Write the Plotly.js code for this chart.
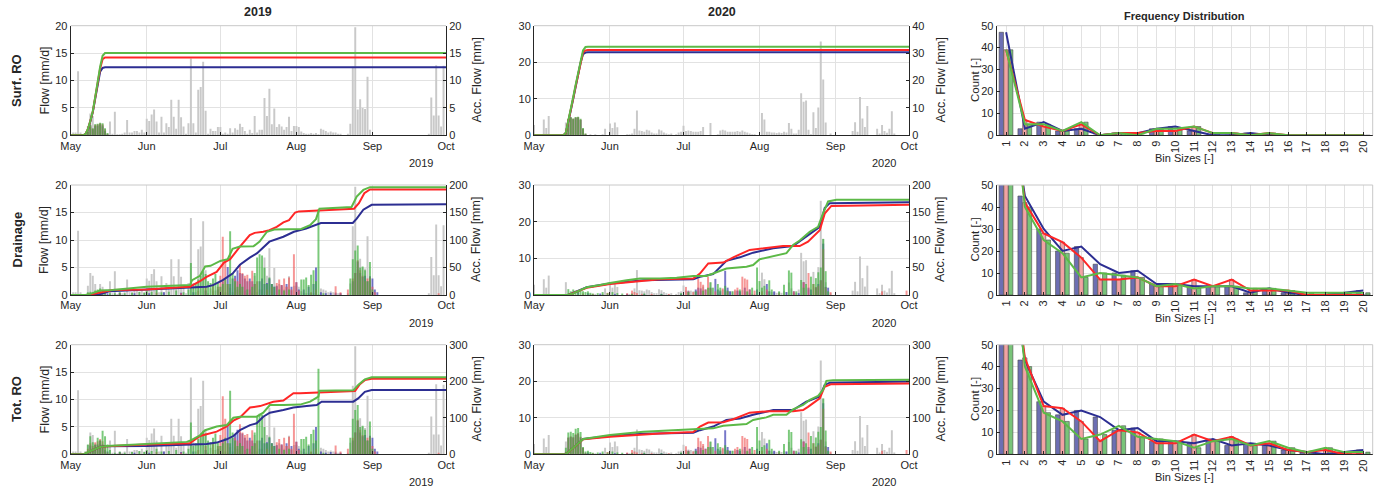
<!DOCTYPE html>
<html><head><meta charset="utf-8">
<script src="https://cdn.plot.ly/plotly-3.0.1.min.js"></script>
<style>html,body{margin:0;padding:0;background:#fff}#chart{width:1378px;height:489px}</style>
</head><body><div id="chart"></div>
<script>
// ---------------- DATA ----------------
const monthLabels = ['May','Jun','Jul','Aug','Sep','Oct'];
const monthStarts = ['05-01','06-01','07-01','08-01','09-01','10-01'];
const bins = [1,2,3,4,5,6,7,8,9,10,11,12,13,14,15,16,17,18,19,20];

// daily precipitation (grey), index 0 = 1 May
const precip19 = [0,0.5,0.5,11.7,0.5,0,0,1.7,4.0,3.5, 2.0,0,2.0,1.5,0.5,0,2.5,0.3,4.3,0.2,
 0.2,0.3,0.5,2.8,0.5,0.5,0.8,0.8,0.5,1.0, 0.5,3.0,2.6,3.8,4.7,2.5,0.5,3.4,0.5,2.2,
 1.5,6.5,3.4,1.2,6.5,3.3,1.6,0.3,2.2,14.0, 2.2,0.5,8.3,8.8,13.4,4.5,0.3,1.2,0.8,0.8,
 1.5,1.5,0.3,0.5,0.3,1.3,0.5,1.3,1.0,2.1, 1.5,0.8,0.3,1.0,0.4,3.5,0.5,1.0,1.0,6.8,
 3.5,8.5,2.0,4.9,1.5,2.0,1.6,1.0,1.5,3.4, 0.8,1.7,1.7,1.5,0.7,0.4,0.3,0.3,0.4,0.3,
 0.4,0.2,1.2,1.0,0.8,0.5,0.7,0.5,0.5,0.3, 0.3,0,0,0.3,2.1,12.5,19.7,4.7,6.6,5.0,
 4.8,10.7,1.0,0,0,0,0,0,0,0, 0,0,0,0,0,0,0,0,0,0,
 0,0,0,0,0,0,0.3,6.9,3.6,12.8, 3.6,1.6,12.7];
const precip20 = [2.8,0,0,0,4.3,2.0,5.3,0,0,0, 0,0,0,3.5,0.5,0,0,0,0,0,
 0,0,0,0.3,0,0.3,0,0,0.3,1.8, 0,3.2,2.0,3.5,2.2,0,0,0,0.3,0.3,
 0.5,1.8,6.8,1.3,1.2,1.0,1.5,1.3,0.8,0.5, 0.5,1.6,1.3,0.8,0.5,0.3,0.5,0,0.3,0.8,
 1.0,2.6,1.2,1.3,1.2,1.0,1.0,1.0,1.2,2.3, 0,0,3.4,0,0,0.3,1.3,1.5,1.3,1.0,
 1.0,1.0,1.0,1.2,1.0,1.3,1.0,0.8,0.5,0.3, 0.3,0,0,6.1,4.3,1.0,1.0,0.8,0.8,0.6,
 0.8,0.6,1.0,0.8,3.4,1.8,0.5,0.5,1.5,11.5, 9.2,9.5,1.5,0.3,6.3,2.0,7.6,25.7,15.3,3.5,
 0,0.5,0,0,0,0,0,0,0,0, 1.2,3.6,1.0,10.5,4.6,2.3,8.0,0,0,0,
 1.8,0.5,2.8,1.2,0.7,1.8,6.6,0.5,0,0, 0,0,0];

// Surface runoff daily flow
const sr19Day = [7,8,9,10,11,12,13,14,15];
const sr19Blue = [0.6,1.6,1.1,1.7,1.8,2.0,1.8,0.8,0.2];
const sr19Red = [0.7,1.8,1.2,1.9,2.0,2.2,2.0,1.1,0.3];
const sr19Green = [0.8,1.9,1.3,2.0,2.1,2.3,2.2,1.3,0.4];
const sr20Day = [13,14,15,16,17,18,19,20,21];
const sr20Blue = [0.6,4.3,4.8,4.4,4.8,4.9,4.2,1.7,0.3];
const sr20Red = [0.7,4.4,4.9,4.5,4.9,5.0,4.3,1.8,0.4];
const sr20Green = [0.8,4.5,5.0,4.6,5.0,5.1,4.5,2.0,0.5];

// Drainage daily flow 2019
const dr19GreenDay = [7,8,9,10,11,12,13,14,16,18,20,22,25,28,30,31,33,35,37,40,43,46,48,49,50,51,52,53,54,55,56,57,58,59,60,61,62,63,64,65,66,67,68,69,70,72,74,75,76,77,78,79,80,81,82,83,85,87,89,94,95,96,97,98,99,100,101,103,114,115,116,117,118,119,120,121,122,123];
const dr19GreenVal = [0.5,0.6,0.4,0.8,1.0,1.2,0.6,0.4,0.3,0.3,0.5,0.3,0.4,0.6,0.4,0.8,0.6,1.0,0.5,0.6,0.8,0.5,1.0,5.8,1.5,2.0,2.8,3.5,4.3,3.8,2.5,2.2,3.0,3.8,2.2,1.5,2.0,3.0,2.0,11.6,4.0,2.5,1.5,2.0,1.5,1.0,1.5,4.0,6.8,7.4,7.2,5.0,2.0,3.2,2.0,1.5,1.0,0.8,1.0,2.8,2.8,3.2,1.8,3.7,4.5,2.5,15.6,0.3,3.0,6.5,8.1,9.0,5.0,5.2,4.5,2.5,6.0,1.0];
const dr19RedDay = [7,12,20,35,45,52,55,58,60,61,62,63,64,67,68,69,70,71,72,73,74,75,76,80,82,84,85,86,87,88,89,90,91,92,93,98,100,108,110,113,115,116,117,118,119,120,121,122,123,124,150];
const dr19RedVal = [0.3,0.4,0.3,0.4,0.3,0.8,1.5,2.0,1.5,3.5,10.6,6.5,2.0,3.0,2.5,5.5,4.0,3.5,3.7,2.5,4.4,2.0,2.5,1.0,1.5,2.2,2.8,1.8,3.0,1.5,3.2,1.0,7.4,2.3,0.8,0.5,1.0,1.6,0.5,1.0,3.0,4.0,6.3,4.5,3.5,2.5,3.0,3.2,1.5,0.5,0.3];
const dr19BlueDay = [12,15,20,26,32,38,45,50,55,60,62,64,65,66,67,68,69,70,71,72,73,74,75,77,78,79,80,81,82,83,84,86,88,90,92,93,95,97,99,100,102,104,106,108,110,115,116,117,118,119,120,121,122,123,124,125];
const dr19BlueVal = [0.5,0.3,0.4,0.3,0.3,0.5,0.4,0.5,0.8,1.0,2.5,5.1,2.0,3.0,3.5,4.5,4.0,3.8,3.0,2.5,3.0,2.5,2.0,2.5,3.0,2.0,2.2,3.0,2.0,1.5,1.7,1.8,2.0,1.5,2.3,1.0,1.0,1.5,2.0,5.0,0.5,0.3,0.4,0.3,0.3,2.5,4.0,6.1,4.0,3.3,3.5,2.5,3.4,3.0,1.0,0.5];

// Drainage daily flow 2020
const dr20GreenDay = [14,15,16,17,18,19,20,21,22,23,24,26,28,30,32,34,36,40,45,52,60,63,66,69,71,72,73,75,76,78,79,81,84,87,89,91,92,93,94,96,97,100,102,104,105,107,109,110,111,113,114,115,116,117,118,119,120];
const dr20GreenVal = [1.6,1.0,1.5,1.2,0.8,1.2,1.0,0.8,1.0,0.6,0.4,0.5,0.8,0.5,0.8,0.5,0.4,0.3,0.4,0.3,0.5,0.8,1.0,1.2,2.0,3.5,2.0,3.0,2.0,2.5,1.2,1.0,1.5,1.0,2.0,7.5,3.8,2.0,2.5,4.0,1.5,1.0,2.8,6.7,6.1,1.0,4.1,2.0,3.0,5.0,3.0,4.6,6.2,7.5,15.3,6.5,1.0];
const dr20RedDay = [16,20,24,30,38,40,41,42,44,48,55,62,63,65,67,68,69,70,71,72,74,77,79,82,83,85,86,87,88,90,93,95,100,106,110,112,114,115,116,117,118,119,121,142,152];
const dr20RedVal = [0.5,0.4,0.3,0.6,0.5,1.2,0.8,0.5,0.3,0.3,0.3,2.2,1.0,0.8,4.5,3.6,2.8,1.5,5.0,1.8,1.0,1.8,1.0,1.5,2.0,5.0,4.5,4.2,1.5,1.2,1.0,1.5,0.5,1.0,3.5,6.0,3.0,2.1,2.5,4.0,12.5,2.0,0.8,1.0,1.2];
const dr20BlueDay = [15,18,22,27,33,38,45,52,60,63,66,67,68,70,72,74,75,76,78,79,80,83,84,86,88,91,95,96,98,103,106,108,110,112,113,115,116,117,118,119,120];
const dr20BlueVal = [0.5,0.8,0.5,0.4,0.3,0.3,0.2,0.3,0.3,1.0,1.5,2.0,1.8,1.5,2.0,4.4,1.5,1.0,6.6,2.0,1.0,1.2,1.0,2.0,1.5,1.5,3.0,1.0,1.0,0.8,1.0,0.5,3.5,2.0,1.5,2.1,3.0,4.0,14.0,2.2,2.0];

// Total runoff daily flow 2019
const to19GreenDay = [6,7,8,9,10,11,12,13,14,15,16,18,20,22,25,28,30,31,33,35,37,40,43,46,48,49,50,51,52,53,54,55,56,57,58,59,60,61,62,63,64,65,66,67,68,69,70,72,74,75,76,77,78,79,80,81,82,83,85,87,89,94,95,96,97,98,99,100,101,103,114,115,116,117,118,119,120,121,122,123];
const to19GreenVal = [0.5,1.8,3.3,2.2,1.8,3.0,2.5,4.3,3.3,1.8,0.8,0.3,0.5,0.3,0.4,0.6,0.4,0.8,0.6,1.0,0.5,0.6,0.8,0.5,1.0,5.8,1.5,2.0,2.8,3.5,4.3,3.8,2.5,2.2,3.0,3.8,2.2,1.5,2.0,3.0,2.0,11.6,4.0,2.5,1.5,2.0,1.5,1.0,1.5,4.0,6.8,7.4,7.2,5.0,2.0,3.2,2.0,1.5,1.0,0.8,1.0,2.8,2.8,3.2,1.8,3.7,4.5,2.5,15.6,0.3,3.0,6.5,8.1,9.0,5.0,5.2,4.5,2.5,6.0,1.0];
const to19RedDay = [7,8,9,10,11,12,13,14,15,20,35,45,52,55,58,60,61,62,63,64,67,68,69,70,71,72,73,74,75,76,80,82,84,85,86,87,88,89,90,91,92,93,98,100,108,110,113,115,116,117,118,119,120,121,122,123,124,150];
const to19RedVal = [1.0,2.0,1.5,2.2,2.4,2.8,2.4,1.3,0.3,0.3,0.4,0.3,0.8,1.5,2.0,1.5,3.5,10.6,6.5,2.0,3.0,2.5,5.5,4.0,3.5,3.7,2.5,4.4,2.0,2.5,1.0,1.5,2.2,2.8,1.8,3.0,1.5,3.2,1.0,7.4,2.3,0.8,0.5,1.0,1.6,0.5,1.0,3.0,4.0,6.3,4.5,3.5,2.5,3.0,3.2,1.5,0.5,0.3];
const to19BlueDay = [7,8,9,10,11,12,13,14,15,20,26,32,38,45,50,55,60,62,64,65,66,67,68,69,70,71,72,73,74,75,77,78,79,80,81,82,83,84,86,88,90,92,93,95,97,99,100,102,104,106,108,110,115,116,117,118,119,120,121,122,123,124,125];
const to19BlueVal = [0.6,1.6,1.1,1.7,1.8,2.5,1.8,0.8,0.5,0.4,0.3,0.3,0.5,0.4,0.5,0.8,1.0,2.5,5.1,2.0,3.0,3.5,4.5,4.0,3.8,3.0,2.5,3.0,2.5,2.0,2.5,3.0,2.0,2.2,3.0,2.0,1.5,1.7,1.8,2.0,1.5,2.3,1.0,1.0,1.5,2.0,5.0,0.5,0.3,0.4,0.3,0.3,2.5,4.0,6.1,4.0,3.3,3.5,2.5,3.4,3.0,1.0,0.5];

// Total runoff daily flow 2020
const to20GreenDay = [13,14,15,16,17,18,19,20,21,22,23,24,26,28,30,32,34,36,40,45,52,60,63,66,69,71,72,73,75,76,78,79,81,84,87,89,91,92,93,94,96,97,100,102,104,105,107,109,110,111,113,114,115,116,117,118,119,120];
const to20GreenVal = [1.8,6.0,6.2,5.8,7.0,7.2,6.1,2.0,0.8,1.0,0.6,0.4,0.5,0.8,0.5,0.8,0.5,0.4,0.3,0.4,0.3,0.5,0.8,1.0,1.2,2.0,3.5,2.0,3.0,2.0,2.5,1.2,1.0,1.5,1.0,2.0,7.5,3.8,2.0,2.5,4.0,1.5,1.0,2.8,6.7,6.1,1.0,4.1,2.0,3.0,5.0,3.0,4.6,6.2,7.5,15.3,6.5,1.0];
const to20RedDay = [13,14,15,16,17,18,19,20,21,24,30,38,40,41,42,44,48,55,62,63,65,67,68,69,70,71,72,74,77,79,82,83,85,86,87,88,90,93,95,100,106,110,112,114,115,116,117,118,119,121,142,152];
const to20RedVal = [0.7,4.6,4.9,4.7,5.5,5.8,4.8,1.8,0.4,0.3,0.6,0.5,1.2,0.8,0.5,0.3,0.3,0.3,2.2,1.0,0.8,4.5,3.6,2.8,1.5,5.0,1.8,1.0,1.8,1.0,1.5,2.0,5.0,4.5,4.2,1.5,1.2,1.0,1.5,0.5,1.0,3.5,6.0,3.0,2.1,2.5,4.0,12.5,2.0,0.8,1.0,1.2];
const to20BlueDay = [13,14,15,16,17,18,19,20,21,22,27,33,38,45,52,60,63,66,67,68,70,72,74,75,76,78,79,80,83,84,86,88,91,95,96,98,103,106,108,110,112,113,115,116,117,118,119,120];
const to20BlueVal = [0.6,4.5,4.8,4.6,5.3,5.6,4.6,1.7,0.3,0.5,0.4,0.3,0.3,0.2,0.3,0.3,1.0,1.5,2.0,1.8,1.5,2.0,4.4,1.5,1.0,6.6,2.0,1.0,1.2,1.0,2.0,1.5,1.5,3.0,1.0,1.0,0.8,1.0,0.5,3.5,2.0,1.5,2.1,3.0,4.0,14.0,2.2,2.0];

// Accumulated flow (right axis), day since 1 May -> mm
const accSr19Day = [0,5,6,7,8,9,10,11,12,13,14,153];
const accSr19Blue = [0,0,0.2,1.0,2.5,4.2,6.7,9.4,11.6,12.3,12.4,12.4];
const accSr19Red = [0,0,0.2,1.1,2.6,4.3,6.9,9.7,12.2,13.9,14.2,14.2];
const accSr19Green = [0,0,0.2,1.1,2.6,4.4,7.0,9.9,12.5,14.5,15.0,15.0];
const accSr20Day = [0,12,13,14,15,16,17,18,19,20,21,22,153];
const accSr20Blue = [0,0,0.9,4.6,9.0,13.3,17.8,22.2,26.5,29.6,30.2,30.3,30.3];
const accSr20Red = [0,0,0.9,4.7,9.1,13.5,18.0,22.4,26.8,30.2,31.0,31.1,31.1];
const accSr20Green = [0,0,1.0,5.0,9.5,14.0,18.5,23.0,27.5,31.0,32.2,32.3,32.3];

const accDr19GreenDay = [0,6,8,10,12,17,31,48.6,49.5,52.7,54.8,57,61,64,66,69,74.5,77,80,83,87,91,94,97.6,100,101.4,108,114.5,116.6,119.3,122,153];
const accDr19GreenVal = [0,0,2,5,8,9,15,18,27,35,52,53,62,65,84,88,88.5,97,115,119,119,120,120,127,138,157,159,160,179,191,196,196];
const accDr19BlueDay = [0,11,16,31,47,55.4,58,62,66,69,73,76,78.6,81,86.7,91,96,100,102,115,116.6,119.3,122.7,153];
const accDr19BlueVal = [0,0,7,10,14,15,18,27,39,55,68,76,87,97,106,115,121,127,131,131,139,155,164,165];
const accDr19RedDay = [0,7,17,31,44.6,48.6,52.7,55.4,59.5,62.5,65,67.5,69,73,75,78.5,81,84,86.7,89,91.5,93,114,115.5,117.5,119.7,122,153];
const accDr19RedVal = [0,0,9,10,14,15,25,33,42,59,65,80,88,109,113,115,118,124,132,136,150,152,156,157,167,185,192,192];

const accDr20GreenDay = [0,14,16,21.5,26.9,31,37.8,43.2,51.4,58.2,65,70.4,73.1,78.5,86.7,89.4,92.1,97.6,103,105.7,108.4,112.5,115.9,117.9,120,123.4,153];
const accDr20GreenVal = [0,0,3,14,18,22,27,30,30,31.5,34.5,34.5,39,48,51.5,54.5,65,71,76,91,99,115,124,148,170,173,173];
const accDr20BlueDay = [0,14,21.5,31,44.6,65,67.7,73.1,78.5,84,89.4,97.6,105.7,111.1,116.6,118.6,120.7,153];
const accDr20BlueVal = [0,0,14,21,27,28.5,33,38,62,68.5,77,85,89,106,124,158,167,168.5];
const accDr20RedDay = [0,14,21.5,31,51.4,65,67.7,71.1,77.2,81.3,88,96.2,101.6,108.4,111.8,116.6,118.6,121.3,153];
const accDr20RedVal = [0,0,13,20,28.5,30,39,57.5,59,68.5,82,87,89,89,97,118,148,162,164];

const accTo19GreenDay = [0,5.2,6.8,12,14.7,31,47.3,48.6,52.7,54.8,59.5,63.6,66.3,69,75.8,78.5,81.2,86.7,93.5,97.6,101,101.4,115.2,117.2,119.9,122.7,153];
const accTo19GreenVal = [0,0,5,20,23,29,34,37,52,66,76,80,100,103,103,114,135,135,136,144,158,174,175,190,205,211,211];
const accTo19BlueDay = [0,5.4,12,13.6,31,47.3,55.4,59.5,63.6,66.3,69,73.1,75.8,78.5,81.2,86.7,90.8,96.2,100.3,102.3,115.2,117.2,119.9,122.7,153];
const accTo19BlueVal = [0,0,20,22,23,26,28,32,41,50,66,80,85,103,114,121,128,132,135,144,144,153,171,176,176];
const accTo19RedDay = [0,5.2,12,14.7,31,48.6,52.7,59.5,63.6,66.3,69,73.1,77.2,82.6,86.7,90.8,93.5,113.9,115.9,117.9,119.9,122.7,153];
const accTo19RedVal = [0,0,20,22,27,30,50,62,76,92,101,128,132,144,147,167,167,172,173,192,203,207,207];

const accTo20GreenDay = [0,13,20.1,24.2,31,44.6,51.4,65,73.1,77.2,86.7,89.4,94.8,97.6,103,105.7,109.8,112.5,115.9,117.9,119.3,122,153];
const accTo20GreenVal = [0,0,42,46,53,62,64,68,71,78,83,94,101,108,108,123,135,149,160,176,201,203,204];
const accTo20BlueDay = [0,13,20.1,31,44.6,65,67.7,73.1,78.5,84,89.4,97.6,105.7,111.1,116.6,118.6,120.7,153];
const accTo20BlueVal = [0,0,42,50,56,59,66,76,94,98,108,121,121,144,158,190,196,199];
const accTo20RedDay = [0,13,20.1,31,51.4,65,67.7,71.1,77.2,81.3,88,96.2,105.7,109.8,111.8,116.6,118.6,121.3,153];
const accTo20RedVal = [0,0,41,48,57,61,76,87,88,96,114,118,118,121,130,153,185,192,194];

// Frequency distributions (count per bin)
const fqSrBlue = [47,3,6,2,3,0,1,1,3,4,2,0,0,1,0,0,0,0,0,0];
const fqSrRed = [39,7,4,2,5,0,1,1,2,2,4,1,1,0,1,0,0,0,0,0];
const fqSrGreen = [39,5,5,2,6,0,1,0,3,3,4,1,1,0,1,0,0,0,0,0];
const fqDrBlue = [100,45,30,20,22,14,10,11,5,5,4,4,4,1,3,1,0,0,1,2];
const fqDrRed = [110,42,28,24,17,7,7,8,4,4,7,4,7,2,2,2,0,0,0,0];
const fqDrGreen = [120,40,25,19,8,10,9,8,4,5,3,4,4,3,3,2,1,1,1,1];
const fqToBlue = [100,43,24,18,20,17,11,12,6,6,5,7,4,5,4,2,1,0,1,2];
const fqToRed = [110,44,22,21,15,6,11,10,5,5,9,6,8,4,5,2,1,2,0,0];
const fqToGreen = [120,40,19,15,7,9,13,8,7,6,3,6,7,4,6,3,1,3,1,1];

// ---------------- CHART ----------------
const W = 1378, H = 489, DAY = 86400000;
const FONT = 'Liberation Sans, Arial, Helvetica, sans-serif';
const TXT = '#262626';
const colPx = [[70.7,446],[534,909],[996.7,1372.7]];
const rowPx = [[25.7,135.3],[185,295],[344.7,454.3]];
const xd = c => [colPx[c][0]/W, colPx[c][1]/W];
const yd = r => [1-rowPx[r][1]/H, 1-rowPx[r][0]/H];
const sfx = n => n === 1 ? '' : String(n);
function toDates(year, days){
  return days.map(d => new Date(Date.UTC(year,4,1) + d*DAY).toISOString().slice(0,19).replace('T',' '));
}
const idx = n => Array.from({length:n}, (_, i) => i);

const LINE = {blue:'#2c2e92', red:'#ff2626', green:'#5cb947'};
const BAR = {blue:'rgba(55,55,175,0.68)', red:'rgba(240,85,85,0.62)', green:'rgba(60,175,60,0.68)'};
const FBAR = {blue:'#6d6fb3', red:'#f2a3a3', green:'#79c479'};

const timePanels = [
  {r:0,c:0,year:2019,grey:precip19,
   bars:[[sr19Day,sr19Blue],[sr19Day,sr19Red],[sr19Day,sr19Green]],
   acc:[[accSr19Day,accSr19Blue],[accSr19Day,accSr19Red],[accSr19Day,accSr19Green]], yl:[20,5], yr:[20,5]},
  {r:0,c:1,year:2020,grey:precip20,
   bars:[[sr20Day,sr20Blue],[sr20Day,sr20Red],[sr20Day,sr20Green]],
   acc:[[accSr20Day,accSr20Blue],[accSr20Day,accSr20Red],[accSr20Day,accSr20Green]], yl:[30,10], yr:[40,10]},
  {r:1,c:0,year:2019,grey:precip19,
   bars:[[dr19BlueDay,dr19BlueVal],[dr19RedDay,dr19RedVal],[dr19GreenDay,dr19GreenVal]],
   acc:[[accDr19BlueDay,accDr19BlueVal],[accDr19RedDay,accDr19RedVal],[accDr19GreenDay,accDr19GreenVal]], yl:[20,5], yr:[200,50]},
  {r:1,c:1,year:2020,grey:precip20,
   bars:[[dr20BlueDay,dr20BlueVal],[dr20RedDay,dr20RedVal],[dr20GreenDay,dr20GreenVal]],
   acc:[[accDr20BlueDay,accDr20BlueVal],[accDr20RedDay,accDr20RedVal],[accDr20GreenDay,accDr20GreenVal]], yl:[30,10], yr:[200,50]},
  {r:2,c:0,year:2019,grey:precip19,
   bars:[[to19BlueDay,to19BlueVal],[to19RedDay,to19RedVal],[to19GreenDay,to19GreenVal]],
   acc:[[accTo19BlueDay,accTo19BlueVal],[accTo19RedDay,accTo19RedVal],[accTo19GreenDay,accTo19GreenVal]], yl:[20,5], yr:[300,100]},
  {r:2,c:1,year:2020,grey:precip20,
   bars:[[to20BlueDay,to20BlueVal],[to20RedDay,to20RedVal],[to20GreenDay,to20GreenVal]],
   acc:[[accTo20BlueDay,accTo20BlueVal],[accTo20RedDay,accTo20RedVal],[accTo20GreenDay,accTo20GreenVal]], yl:[30,10], yr:[300,100]}
];
const freqPanels = [
  {r:0, d:[fqSrBlue,fqSrRed,fqSrGreen]},
  {r:1, d:[fqDrBlue,fqDrRed,fqDrGreen]},
  {r:2, d:[fqToBlue,fqToRed,fqToGreen]}
];
const colorKeys = ['blue','red','green'];

const axCommon = {
  showline:true, linecolor:TXT, linewidth:1, ticks:'inside', ticklen:3, tickcolor:TXT,
  tickfont:{family:FONT, size:11, color:TXT}, gridcolor:'#e2e2e2', gridwidth:1,
  zeroline:false, fixedrange:true, automargin:false
};

const traces = [];
const layout = {
  width:W, height:H, margin:{l:0,r:0,t:0,b:0}, autosize:false,
  paper_bgcolor:'#fff', plot_bgcolor:'#fff', showlegend:false,
  barmode:'overlay', hovermode:false, font:{family:FONT, color:TXT},
  shapes:[], annotations:[]
};

timePanels.forEach((p, i) => {
  const xs = sfx(i+1), yl = sfx(2*i+1), yr = sfx(2*i+2);
  const bw = 0.8*DAY;
  traces.push({type:'bar', x:toDates(p.year, idx(p.grey.length)), y:p.grey, width:bw,
    xaxis:'x'+xs, yaxis:'y'+yl, marker:{color:'#c9c9c9', line:{width:0}}});
  p.bars.forEach((b, k) => traces.push({type:'bar', x:toDates(p.year, b[0]), y:b[1], width:bw,
    xaxis:'x'+xs, yaxis:'y'+yl, marker:{color:BAR[colorKeys[k]], line:{width:0}}}));
  p.acc.forEach((a, k) => traces.push({type:'scatter', mode:'lines', x:toDates(p.year, a[0]), y:a[1],
    xaxis:'x'+xs, yaxis:'y'+yr, line:{color:LINE[colorKeys[k]], width:2}}));
  layout['xaxis'+xs] = Object.assign({}, axCommon, {
    domain:xd(p.c), anchor:'y'+yl, type:'date',
    range:[p.year+'-05-01', p.year+'-10-01'],
    tickmode:'array', tickvals:monthStarts.map(m => p.year+'-'+m), ticktext:monthLabels,
    showgrid:true
  });
  layout['yaxis'+yl] = Object.assign({}, axCommon, {
    domain:yd(p.r), anchor:'x'+xs, range:[0,p.yl[0]], tick0:0, dtick:p.yl[1], showgrid:true
  });
  layout['yaxis'+yr] = Object.assign({}, axCommon, {
    overlaying:'y'+yl, side:'right', anchor:'x'+xs, range:[0,p.yr[0]], tick0:0, dtick:p.yr[1], showgrid:false
  });
  layout.shapes.push({type:'line', xref:'x'+xs+' domain', yref:'y'+yl+' domain', x0:0, x1:1, y0:1, y1:1,
    line:{color:'#c8c8c8', width:1}});
});

const fOff = [-0.37, -0.12, 0.13];
freqPanels.forEach((p, k) => {
  const n = 7+k, xs = sfx(n), ys = sfx(13+k);
  p.d.forEach((vals, j) => traces.push({type:'bar', x:bins, y:vals, width:0.23, offset:fOff[j],
    xaxis:'x'+xs, yaxis:'y'+ys, marker:{color:FBAR[colorKeys[j]], line:{color:'#4a4a4a', width:0.6}}}));
  p.d.forEach((vals, j) => traces.push({type:'scatter', mode:'lines', x:bins, y:vals,
    xaxis:'x'+xs, yaxis:'y'+ys, line:{color:LINE[colorKeys[j]], width:2}}));
  layout['xaxis'+xs] = Object.assign({}, axCommon, {
    domain:xd(2), anchor:'y'+ys, range:[0.5,20.5], tickmode:'array', tickvals:bins,
    ticktext:bins.map(String), tickangle:-90, showgrid:true
  });
  layout['yaxis'+ys] = Object.assign({}, axCommon, {
    domain:yd(p.r), anchor:'x'+xs, range:[0,50], tick0:0, dtick:10, showgrid:true
  });
  layout.shapes.push({type:'line', xref:'x'+xs+' domain', yref:'y'+ys+' domain', x0:0, x1:1, y0:1, y1:1,
    line:{color:'#c8c8c8', width:1}});
  layout.shapes.push({type:'line', xref:'x'+xs+' domain', yref:'y'+ys+' domain', x0:1, x1:1, y0:0, y1:1,
    line:{color:'#c8c8c8', width:1}});
});

function ann(text, px, py, size, extra){
  return Object.assign({text:text, x:px/W, y:1-py/H, xref:'paper', yref:'paper', showarrow:false,
    xanchor:'center', yanchor:'middle', font:{family:FONT, size:size, color:TXT}}, extra||{});
}
const A = layout.annotations;
A.push(ann('<b>2019</b>', (colPx[0][0]+colPx[0][1])/2, 12, 12.5));
A.push(ann('<b>2020</b>', (colPx[1][0]+colPx[1][1])/2, 12, 12.5));
A.push(ann('<b>Frequency Distribution</b>', (colPx[2][0]+colPx[2][1])/2, 16, 11));
const rowNames = ['Surf. RO','Drainage','Tot. RO'];
rowPx.forEach((rp, r) => {
  const cy = (rp[0]+rp[1])/2;
  A.push(ann('<b>'+rowNames[r]+'</b>', 16.5, cy, 13, {textangle:-90}));
  A.push(ann('Flow [mm/d]', 44, cy, 12.5, {textangle:-90}));
  A.push(ann('Acc. Flow [mm]', 476, cy, 12.5, {textangle:-90}));
  A.push(ann('Acc. Flow [mm]', 940, cy, 12.5, {textangle:-90}));
  A.push(ann('Count [-]', 974.5, cy, 11.5, {textangle:-90}));
  A.push(ann('Bin Sizes [-]', (colPx[2][0]+colPx[2][1])/2, rp[1]+23, 11));
  A.push(ann('2019', colPx[0][1]-11, rp[1]+28, 11, {xanchor:'right'}));
  A.push(ann('2020', colPx[1][1]-11, rp[1]+28, 11, {xanchor:'right'}));
});

Plotly.newPlot('chart', traces, layout, {staticPlot:true, displayModeBar:false});
</script></body></html>
